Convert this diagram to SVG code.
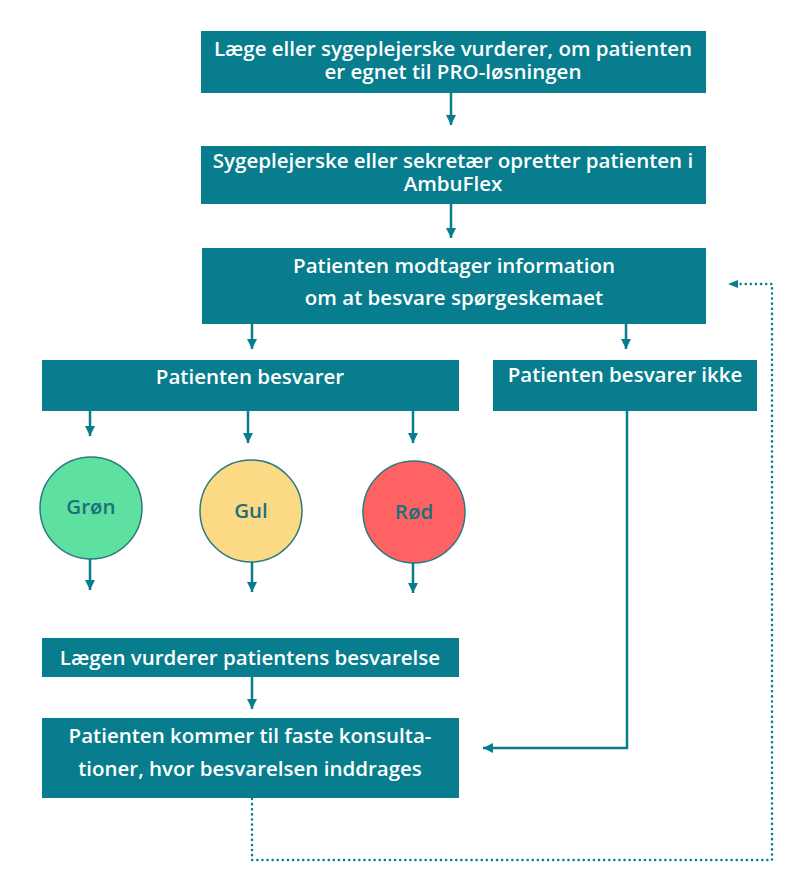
<svg xmlns="http://www.w3.org/2000/svg" width="812" height="876" viewBox="0 0 812 876">
<defs>
<style>
.box{fill:#077D8E}
.t{font-family:"Open Sans","Noto Sans",sans-serif;font-weight:600;font-size:20.5px;fill:#ffffff;text-anchor:middle}
.ct{font-family:"Open Sans","Noto Sans",sans-serif;font-weight:600;font-size:20.5px;fill:#1E6F7C;text-anchor:middle}
.circ{stroke:#2A7A80;stroke-width:1.5}
.ln{stroke:#077D8E;stroke-width:2.5;fill:none}
.dot{stroke:#077D8E;stroke-width:2.5;fill:none;stroke-dasharray:0.1 5;stroke-linecap:round}
</style>
<marker id="ah" viewBox="0 0 10 10" refX="10" refY="5" markerWidth="4" markerHeight="4" orient="auto" markerUnits="strokeWidth">
<path d="M0,0 L10,5 L0,10 Z" fill="#077D8E"/>
</marker>
</defs>
<rect width="812" height="876" fill="#ffffff"/>
<g id="n1"><rect class="box" x="201" y="31" width="505" height="62"/>
<text class="t" x="453" y="56">Læge eller sygeplejerske vurderer, om patienten</text>
<text class="t" x="453" y="79">er egnet til PRO-løsningen</text></g>
<g id="n2"><rect class="box" x="201" y="146" width="505" height="58"/>
<text class="t" x="453" y="168">Sygeplejerske eller sekretær opretter patienten i</text>
<text class="t" x="453" y="191">AmbuFlex</text></g>
<g id="n3"><rect class="box" x="202" y="248" width="504" height="76"/>
<text class="t" x="454" y="273">Patienten modtager information</text>
<text class="t" x="454" y="305">om at besvare spørgeskemaet</text></g>
<g id="n4"><rect class="box" x="42" y="360" width="417" height="51"/>
<text class="t" x="250" y="384">Patienten besvarer</text></g>
<g id="n5"><rect class="box" x="493" y="360" width="264" height="51"/>
<text class="t" x="625" y="382">Patienten besvarer ikke</text></g>
<g id="n6"><circle class="circ" cx="91" cy="508" r="51" fill="#5EE0A0"/>
<text class="ct" x="91" y="514">Grøn</text></g>
<g id="n7"><circle class="circ" cx="251" cy="511" r="51" fill="#FBD985"/>
<text class="ct" x="251" y="518">Gul</text></g>
<g id="n8"><circle class="circ" cx="414" cy="512" r="51" fill="#FF6263"/>
<text class="ct" x="414" y="519">Rød</text></g>
<g id="n9"><rect class="box" x="42" y="638" width="417" height="39"/>
<text class="t" x="250" y="665">Lægen vurderer patientens besvarelse</text></g>
<g id="n10"><rect class="box" x="42" y="718" width="417" height="80"/>
<text class="t" x="250" y="743">Patienten kommer til faste konsulta-</text>
<text class="t" x="250" y="776">tioner, hvor besvarelsen inddrages</text></g>
<g id="connectors">
<line class="ln" x1="451" y1="93" x2="451" y2="125" marker-end="url(#ah)"/>
<line class="ln" x1="451" y1="204" x2="451" y2="238" marker-end="url(#ah)"/>
<line class="ln" x1="252" y1="324" x2="252" y2="349" marker-end="url(#ah)"/>
<line class="ln" x1="626" y1="324" x2="626" y2="349" marker-end="url(#ah)"/>
<line class="ln" x1="90" y1="411" x2="90" y2="436" marker-end="url(#ah)"/>
<line class="ln" x1="248" y1="411" x2="248" y2="443" marker-end="url(#ah)"/>
<line class="ln" x1="413" y1="411" x2="413" y2="443" marker-end="url(#ah)"/>
<line class="ln" x1="90" y1="559" x2="90" y2="590" marker-end="url(#ah)"/>
<line class="ln" x1="252" y1="562" x2="252" y2="592" marker-end="url(#ah)"/>
<line class="ln" x1="413" y1="563" x2="413" y2="593" marker-end="url(#ah)"/>
<line class="ln" x1="252" y1="677" x2="252" y2="709" marker-end="url(#ah)"/>
<polyline class="ln" points="627,411 627,748 483,748" marker-end="url(#ah)"/>
<polyline class="dot" points="252,799 252,860 772,860 772,284 738,284"/>
<path d="M728,284 L738,280 L738,288 Z" fill="#077D8E"/>
</g>
</svg>
